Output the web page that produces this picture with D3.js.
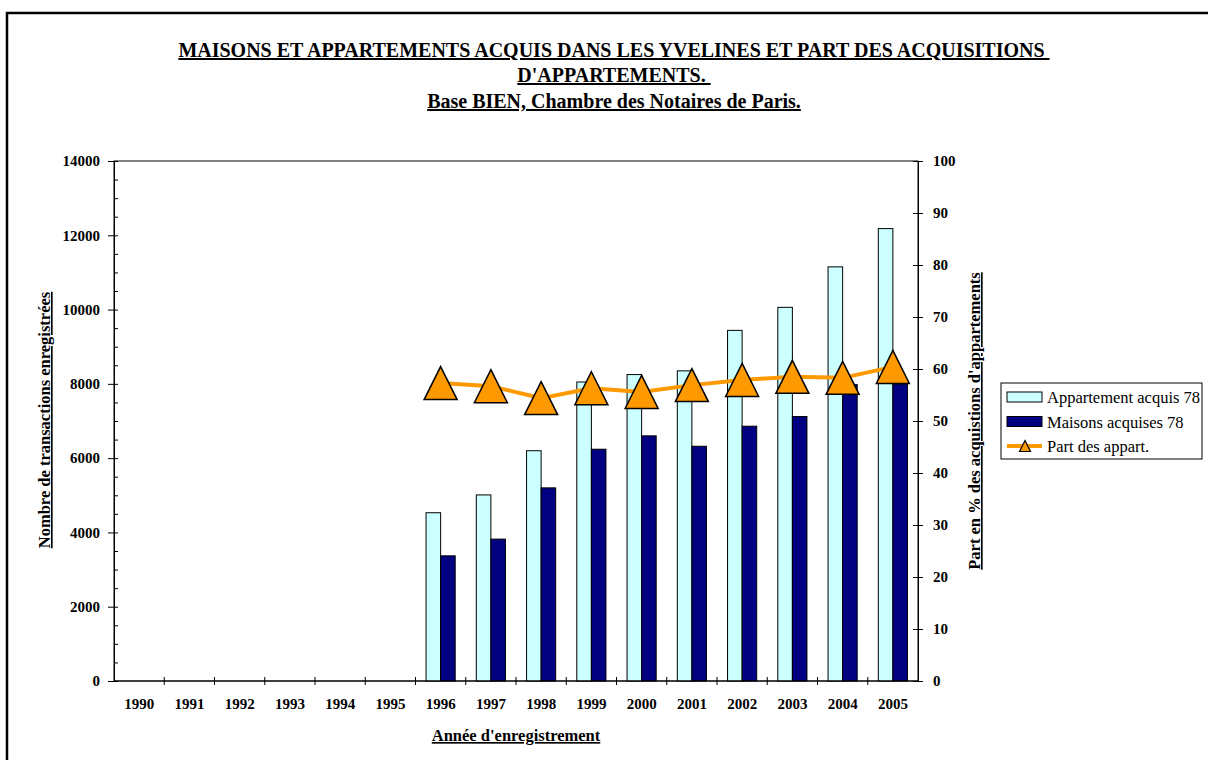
<!DOCTYPE html>
<html>
<head>
<meta charset="utf-8">
<script src="https://cdn.jsdelivr.net/npm/d3@7"></script>
<style>
  body { margin: 0; background: #fff; }
  svg text { font-family: "Liberation Serif", "Times New Roman", serif; }
</style>
</head>
<body>
<div id="chart"></div>
<script>
// data
const years = ['1990', '1991', '1992', '1993', '1994', '1995', '1996', '1997',
    '1998', '1999', '2000', '2001', '2002', '2003', '2004', '2005'];
const appartements = [null, null, null, null, null, null, 4530, 5010, 6200, 8050, 8250, 8350, 9440, 10060, 11150, 12180];
const maisons = [null, null, null, null, null, null, 3370, 3820, 5200, 6240, 6600, 6320, 6860, 7120, 7980, 8000];
const partAppart = [null, null, null, null, null, null, 57.3, 56.7, 54.4, 56.3, 55.6, 56.9, 57.9, 58.5, 58.3, 60.4];

const leftTicks = [0, 2000, 4000, 6000, 8000, 10000, 12000, 14000];
const rightTicks = [0, 10, 20, 30, 40, 50, 60, 70, 80, 90, 100];

const seriesNames = ['Appartement acquis 78', 'Maisons acquises 78', 'Part des appart.'];
const titleLines = [
    'MAISONS ET APPARTEMENTS ACQUIS DANS LES YVELINES ET PART DES ACQUISITIONS ',
    "D'APPARTEMENTS. ",
    'Base BIEN, Chambre des Notaires de Paris.'
];

const WIDTH = 1208;
const HEIGHT = 760;
const LIGHT = '#CCFFFF';
const DARK = '#000080';
const ORANGE = '#FF9900';

const plot = { left: 114, right: 918, top: 161, bottom: 681 };

const svg = d3.select('#chart')
    .append('svg')
    .attr('width', WIDTH)
    .attr('height', HEIGHT);

// outer frame (runs off the picture right and bottom)
svg.append('rect')
    .attr('x', 7)
    .attr('y', 13)
    .attr('width', 1300)
    .attr('height', 900)
    .attr('fill', 'none')
    .attr('stroke', '#000')
    .attr('stroke-width', 2.5);

// title
svg.selectAll('text.title')
    .data(titleLines)
    .enter()
    .append('text')
    .attr('class', 'title')
    .attr('x', 614)
    .attr('y', (d, i) => [57, 82, 108][i])
    .attr('text-anchor', 'middle')
    .attr('font-size', 20)
    .attr('font-weight', 'bold')
    .style('text-decoration', 'underline')
    .style('white-space', 'pre')
    .text(d => d);

// scales
const x0 = d3.scaleBand()
    .domain(years)
    .range([plot.left, plot.right])
    .padding(0);

const groupW = x0.bandwidth() * 0.58;
const x1 = d3.scaleBand()
    .domain([0, 1])
    .range([0, groupW]);

const yLeft = d3.scaleLinear()
    .domain([0, 14000])
    .range([plot.bottom, plot.top]);

const yRight = d3.scaleLinear()
    .domain([0, 100])
    .range([plot.bottom, plot.top]);

// plot area border
svg.append('rect')
    .attr('x', plot.left)
    .attr('y', plot.top)
    .attr('width', plot.right - plot.left)
    .attr('height', plot.bottom - plot.top)
    .attr('fill', 'none')
    .attr('stroke', '#000')
    .attr('stroke-width', 1);

// bars
const barData = [];
years.forEach((yr, i) => {
    [appartements[i], maisons[i]].forEach((v, s) => {
        if (v != null) barData.push({ year: yr, s: s, v: v });
    });
});

svg.selectAll('rect.bar')
    .data(barData)
    .enter()
    .append('rect')
    .attr('class', 'bar')
    .attr('x', d => x0(d.year) + (x0.bandwidth() - groupW) / 2 + x1(d.s))
    .attr('y', d => yLeft(d.v))
    .attr('width', x1.bandwidth())
    .attr('height', d => yLeft(0) - yLeft(d.v))
    .attr('fill', d => d.s === 0 ? LIGHT : DARK)
    .attr('stroke', '#000')
    .attr('stroke-width', 1);

// left axis
const fontAxis = g => g.selectAll('text')
    .attr('font-family', '"Liberation Serif", serif')
    .attr('font-size', 15)
    .attr('font-weight', 'bold')
    .attr('fill', '#000');

svg.append('g')
    .attr('transform', `translate(${plot.left},0)`)
    .call(d3.axisLeft(yLeft).tickValues(d3.range(0, 14001, 500)).tickSize(-4).tickFormat(''))
    .call(g => g.select('.domain').remove());

svg.append('g')
    .attr('transform', `translate(${plot.left},0)`)
    .call(d3.axisLeft(yLeft).tickValues(leftTicks).tickSize(6).tickPadding(8).tickFormat(d3.format('d')))
    .call(fontAxis)
    .call(g => g.select('.domain').attr('stroke', '#000'));

// right axis
svg.append('g')
    .attr('transform', `translate(${plot.right},0)`)
    .call(d3.axisRight(yRight).tickValues(rightTicks).tickSize(5).tickPadding(10))
    .call(fontAxis)
    .call(g => g.selectAll('.tick line').attr('x1', -5))
    .call(g => g.select('.domain').attr('stroke', '#000'));

// bottom axis
svg.append('g')
    .attr('transform', `translate(0,${plot.bottom})`)
    .call(d3.axisBottom(x0).tickSize(0).tickPadding(17))
    .call(fontAxis)
    .call(g => g.select('.domain').remove());

svg.append('line')
    .attr('x1', plot.left).attr('x2', plot.right)
    .attr('y1', plot.bottom).attr('y2', plot.bottom)
    .attr('stroke', '#000');

svg.selectAll('line.xtick')
    .data(years.slice(1))
    .enter()
    .append('line')
    .attr('class', 'xtick')
    .attr('x1', d => x0(d)).attr('x2', d => x0(d))
    .attr('y1', plot.bottom - 4).attr('y2', plot.bottom + 4)
    .attr('stroke', '#000');

// axis titles
svg.append('text')
    .attr('x', 516)
    .attr('y', 741)
    .attr('text-anchor', 'middle')
    .attr('font-size', 16.5)
    .attr('font-weight', 'bold')
    .style('text-decoration', 'underline')
    .text("Année d'enregistrement");

svg.append('text')
    .attr('transform', 'translate(50,420) rotate(-90)')
    .attr('text-anchor', 'middle')
    .attr('font-size', 16.5)
    .attr('font-weight', 'bold')
    .style('text-decoration', 'underline')
    .text('Nombre de transactions enregistrées');

svg.append('text')
    .attr('transform', 'translate(980,421) rotate(-90)')
    .attr('text-anchor', 'middle')
    .attr('font-size', 16.5)
    .attr('font-weight', 'bold')
    .style('text-decoration', 'underline')
    .text("Part en % des acquistions d'appartements");

// line + triangles
const linePts = years.map((yr, i) => ({ year: yr, v: partAppart[i] })).filter(d => d.v != null);
const cx = d => x0(d.year) + x0.bandwidth() / 2;

svg.append('path')
    .datum(linePts)
    .attr('fill', 'none')
    .attr('stroke', ORANGE)
    .attr('stroke-width', 4)
    .attr('d', d3.line().x(cx).y(d => yRight(d.v)));

// upright triangle in a square box centred on the point
const boxTriangle = {
    draw(context, size) {
        const h = Math.sqrt(size) / 2;
        context.moveTo(0, -h);
        context.lineTo(h, h);
        context.lineTo(-h, h);
        context.closePath();
    }
};

svg.selectAll('path.tri')
    .data(linePts)
    .enter()
    .append('path')
    .attr('class', 'tri')
    .attr('transform', d => `translate(${cx(d)},${yRight(d.v)})`)
    .attr('d', d3.symbol().type(boxTriangle).size(33 * 33))
    .attr('fill', ORANGE)
    .attr('stroke', '#000')
    .attr('stroke-width', 1.5);

// legend
const legend = svg.append('g');
legend.append('rect')
    .attr('x', 1001).attr('y', 383)
    .attr('width', 201).attr('height', 76)
    .attr('fill', '#fff')
    .attr('stroke', '#000');

seriesNames.forEach((name, i) => {
    const yy = 397 + i * 24.5;
    if (i < 2) {
        legend.append('rect')
            .attr('x', 1007).attr('y', yy - 5)
            .attr('width', 35).attr('height', 10)
            .attr('fill', i === 0 ? LIGHT : DARK)
            .attr('stroke', '#000');
    } else {
        legend.append('line')
            .attr('x1', 1007).attr('x2', 1042)
            .attr('y1', yy).attr('y2', yy)
            .attr('stroke', ORANGE).attr('stroke-width', 4);
        legend.append('path')
            .attr('transform', `translate(1025,${yy})`)
            .attr('d', d3.symbol().type(boxTriangle).size(11 * 11))
            .attr('fill', ORANGE)
            .attr('stroke', '#000')
            .attr('stroke-width', 1.2);
    }
    legend.append('text')
        .attr('x', 1047)
        .attr('y', yy + 6)
        .attr('font-size', 16.5)
        .text(name);
});
</script>
</body>
</html>
